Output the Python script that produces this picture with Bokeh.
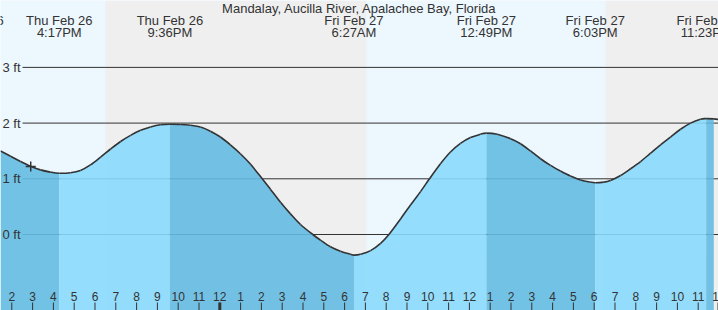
from bokeh.plotting import figure
from bokeh.models import Range1d
from bokeh.embed import file_html
from bokeh.resources import INLINE
from bokeh.core.properties import value

# ---------------- data (hours since Thu Feb 26 00:00, heights in ft) ----------------
title = "Mandalay, Aucilla River, Apalachee Bay, Florida"

curve_t = [13.46, 13.94, 14.42, 14.90, 15.38, 15.86,
           16.82, 17.30, 17.78, 18.27, 18.75, 19.23, 19.71, 20.19, 20.67, 21.15,
           22.11, 22.59, 23.07, 23.55, 24.03, 24.51, 24.99, 25.48, 26.04, 26.44,
           26.92, 27.40, 27.88, 28.47, 28.84, 29.32, 29.80, 30.28,
           30.77, 31.25, 31.73, 32.13, 32.69, 33.17, 33.65, 34.08, 34.61, 35.09,
           35.57, 36.05, 36.53,
           37.34, 37.98, 38.46, 38.94, 39.42, 39.90, 40.38, 40.86, 41.34, 41.82,
           42.46, 42.78, 43.27, 43.75, 44.23, 44.71, 45.19, 45.67, 46.15, 46.63,
           47.11, 47.75, 47.98]
curve_h = [1.50, 1.405, 1.31, 1.225, 1.16, 1.12,
           1.11, 1.15, 1.25, 1.39, 1.535, 1.67, 1.78, 1.87, 1.93, 1.97,
           1.975, 1.96, 1.93, 1.855, 1.75, 1.61, 1.45, 1.26, 1.00, 0.81,
           0.58, 0.37, 0.18, 0.00, -0.10, -0.22, -0.30, -0.355,
           -0.355, -0.29, -0.16, 0.00, 0.28, 0.53, 0.77, 1.00, 1.27, 1.48,
           1.635, 1.74, 1.80,
           1.80, 1.72, 1.63, 1.50, 1.36, 1.24, 1.14, 1.05, 0.98, 0.94,
           0.94, 0.97, 1.06, 1.18, 1.31, 1.46, 1.61, 1.75, 1.89, 2.00,
           2.07, 2.075, 2.065]

tide_t = [16.2833, 21.60, 30.45, 36.8167, 42.05, 47.3833]
tide_h = [1.10, 1.98, -0.37, 1.82, 0.93, 2.08]

label_t = [12.02, 16.2833, 21.60, 30.45, 36.8167, 42.05, 47.3833]
label_date = ["Thu Feb 26", "Thu Feb 26", "Thu Feb 26", "Fri Feb 27",
              "Fri Feb 27", "Fri Feb 27", "Fri Feb 27"]
label_time = ["12:01PM", "4:17PM", "9:36PM", "6:27AM", "12:49PM", "6:03PM", "11:23PM"]

sunset_thu, sunrise_fri, sunset_fri = 18.50, 31.05, 42.55

now_t, now_h = [14.91], [1.22]

ft_values = [0, 1, 2, 3]
ft_labels = ["0 ft", "1 ft", "2 ft", "3 ft"]

tick_hours = list(range(14, 49))
tick_labels = ["2", "3", "4", "5", "6", "7", "8", "9", "10", "11", "12",
               "1", "2", "3", "4", "5", "6", "7", "8", "9", "10", "11", "12",
               "1", "2", "3", "4", "5", "6", "7", "8", "9", "10", "11", "12"]
midnights = [24, 48]

# ---------------- layout ----------------
W, H = 718, 310
PX_HR = 20.8
X0 = 13.457
X1 = X0 + W / PX_HR
ZERO_PX, PX_FT = 234.0, 55.7


def ypx(py):
    return (ZERO_PX - py) / PX_FT


def xpx(px):
    return X0 + px / PX_HR


Y0, Y1 = ypx(H), ypx(0)

FONT = value("Liberation Sans")
TXT = "#333333"
DAY = "#edf7fe"
NIGHT = "#efefef"
RISE = "#8ad9fc"
FALL = "#64bbe2"

p = figure(width=W, height=H, x_range=Range1d(X0, X1), y_range=Range1d(Y0, Y1),
           x_axis_type=None, y_axis_type=None, toolbar_location=None,
           output_backend="svg", min_border=0, outline_line_color=None,
           background_fill_color=DAY, border_fill_color=DAY)
p.grid.visible = False

# day / night bands
p.quad(left=[X0, sunrise_fri], right=[sunset_thu, sunset_fri], bottom=Y0, top=Y1,
       fill_color=DAY, line_color=None)
p.quad(left=[sunset_thu, sunset_fri], right=[sunrise_fri, X1], bottom=Y0, top=Y1,
       fill_color=NIGHT, line_color=None)

# ft grid lines
p.segment(x0=[xpx(22)] * len(ft_values), y0=ft_values, x1=[X1] * len(ft_values), y1=ft_values,
          line_color="#333333", line_width=1)

# tide curve fill, split at highs and lows
pts = sorted(zip(curve_t + tide_t, curve_h + tide_h))
bounds = [X0] + [t for t in tide_t if X0 < t < X1] + [X1]
for a, b in zip(bounds[:-1], bounds[1:]):
    seg = [(t, h) for t, h in pts if a - 1e-6 <= t <= b + 1e-6]
    xs = [t for t, _ in seg]
    hs = [h for _, h in seg]
    color = RISE if hs[-1] > hs[0] else FALL
    p.varea(x=xs, y1=[Y0 - 1] * len(xs), y2=hs, fill_color=color, fill_alpha=0.9)

# smooth outline through the points (Catmull-Rom as cubic Bezier pieces)
T = [t for t, _ in pts]
Hh = [h for _, h in pts]
n = len(T)
bx0, by0, bx1, by1, c0x, c0y, c1x, c1y = [], [], [], [], [], [], [], []
for i in range(n - 1):
    im, ip2 = max(i - 1, 0), min(i + 2, n - 1)
    bx0.append(T[i]); by0.append(Hh[i])
    bx1.append(T[i + 1]); by1.append(Hh[i + 1])
    c0x.append(T[i] + (T[i + 1] - T[im]) / 6.0)
    c0y.append(Hh[i] + (Hh[i + 1] - Hh[im]) / 6.0)
    c1x.append(T[i + 1] - (T[ip2] - T[i]) / 6.0)
    c1y.append(Hh[i + 1] - (Hh[ip2] - Hh[i]) / 6.0)
p.bezier(x0=bx0, y0=by0, x1=bx1, y1=by1, cx0=c0x, cy0=c0y, cx1=c1x, cy1=c1y,
         line_color="#333333", line_width=1.6)

p.scatter(now_t, now_h, marker="cross", size=10, line_color="#333333", line_width=1.5)

# y labels
p.text(x=[X0] * len(ft_values), y=ft_values, text=ft_labels, x_offset=20,
       text_align="right", text_baseline="middle", text_font=FONT,
       text_font_size="13px", text_color=TXT)

# hour ticks and labels
p.segment(x0=tick_hours, y0=[ypx(302)] * len(tick_hours), x1=tick_hours, y1=[Y0] * len(tick_hours),
          line_color="#333333", line_width=1)
p.segment(x0=midnights, y0=[ypx(302)] * len(midnights), x1=midnights, y1=[Y0] * len(midnights),
          line_color="#333333", line_width=3)
p.text(x=tick_hours, y=[ypx(296)] * len(tick_hours), text=tick_labels,
       text_align="center", text_baseline="middle", text_font=FONT,
       text_font_size="12px", text_color=TXT)

# top labels
p.text(x=label_t, y=[ypx(19.5)] * len(label_t), text=label_date, text_align="center",
       text_baseline="middle", text_font=FONT, text_font_size="13px", text_color=TXT)
p.text(x=label_t, y=[ypx(32)] * len(label_t), text=label_time, text_align="center",
       text_baseline="middle", text_font=FONT, text_font_size="13px", text_color=TXT)
p.text(x=[(X0 + X1) / 2], y=[ypx(8)], text=[title], text_align="center",
       text_baseline="middle", text_font=FONT, text_font_size="13px", text_color=TXT)

open("out.html", "w").write(file_html(p, INLINE))
